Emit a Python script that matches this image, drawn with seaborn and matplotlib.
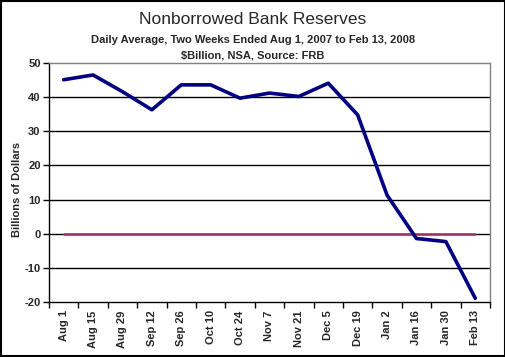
import matplotlib
matplotlib.use("Agg")
import matplotlib.pyplot as plt
import matplotlib.patches as mpatches
import numpy as np
import pandas as pd
import seaborn as sns

dates = ["Aug 1", "Aug 15", "Aug 29", "Sep 12", "Sep 26", "Oct 10", "Oct 24",
         "Nov 7", "Nov 21", "Dec 5", "Dec 19", "Jan 2", "Jan 16", "Jan 30", "Feb 13"]
reserves = [45.1, 46.5, 41.6, 36.3, 43.6, 43.6, 39.7,
            41.2, 40.2, 44.1, 34.8, 11.3, -1.4, -2.3, -18.9]
zero_line = [0] * len(dates)
y_ticks = [-20, -10, 0, 10, 20, 30, 40, 50]

df = pd.DataFrame({"date": dates, "reserves": reserves, "zero": zero_line})

sns.set_style("white")
plt.rcParams["font.family"] = ["Liberation Sans", "DejaVu Sans"]

fig = plt.figure(figsize=(5.06, 3.57), dpi=100)
ax = fig.add_axes([0.0968, 0.154, 0.8715, 0.6695])

# horizontal gridlines (black, Excel style)
for y in y_ticks[1:-1]:
    ax.axhline(y, color="black", linewidth=1, zorder=1)

sns.lineplot(data=df, x="date", y="zero", color="#993366", linewidth=1.8, ax=ax, zorder=2)
sns.lineplot(data=df, x="date", y="reserves", color="#000080", linewidth=2.6, ax=ax, zorder=3)

ax.set_xlim(-0.5, len(dates) - 0.5)
ax.set_ylim(-20, 50)
ax.set_yticks(y_ticks)
ax.set_yticklabels([str(v) for v in y_ticks], fontsize=8, fontweight="bold")
ax.tick_params(axis="y", which="major", length=4, width=1, color="black", left=True, pad=2)

# tick marks between categories, labels centred on the points
pos = np.arange(len(dates))
ax.set_xticks(np.arange(len(dates) + 1) - 0.5)
ax.set_xticklabels([])
ax.set_xticks(pos, minor=True)
ax.set_xticklabels(dates, minor=True, rotation=90, fontsize=8, fontweight="bold")
ax.tick_params(axis="x", which="major", length=4, width=1, color="black", bottom=True, direction="out")
ax.tick_params(axis="x", which="minor", length=0, pad=6)

ax.set_xlabel("")
ax.set_ylabel("Billions of Dollars", fontsize=8, fontweight="bold")
ax.yaxis.set_label_coords(-0.062, 0.47)

for side in ["left", "bottom"]:
    ax.spines[side].set_color("black")
    ax.spines[side].set_linewidth(1)
for side in ["top", "right"]:
    ax.spines[side].set_color("#808080")
    ax.spines[side].set_linewidth(1)

fig.text(0.5, 0.945, "Nonborrowed Bank Reserves", ha="center", va="center", fontsize=12.5)
fig.text(0.5, 0.887, "Daily Average, Two Weeks Ended Aug 1, 2007 to Feb 13, 2008",
         ha="center", va="center", fontsize=8, fontweight="bold")
fig.text(0.5, 0.845, "$Billion, NSA, Source: FRB", ha="center", va="center",
         fontsize=8, fontweight="bold")

fig.patches.append(mpatches.Rectangle((0.001, 0.002), 0.997, 0.995, transform=fig.transFigure,
                                      fill=False, edgecolor="black", linewidth=1.5))

fig.savefig("out.png", dpi=100)
plt.close(fig)
